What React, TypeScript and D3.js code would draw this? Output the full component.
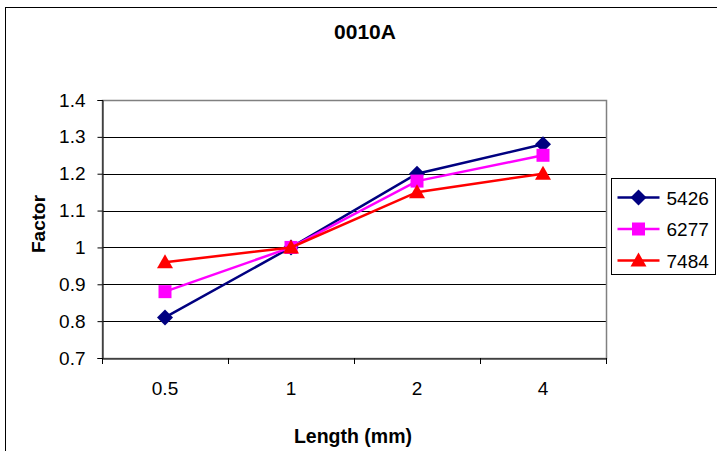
import React, { useEffect, useRef } from "react";
import * as d3 from "d3";

const categories = ["0.5", "1", "2", "4"];
const seriesNames = ["5426", "6277", "7484"];
const values5426 = [0.81, 1.0, 1.2, 1.28];
const values6277 = [0.88, 1.0, 1.18, 1.25];
const values7484 = [0.96, 1.0, 1.15, 1.2];
const yTicks = [0.7, 0.8, 0.9, 1, 1.1, 1.2, 1.3, 1.4];

const colors = ["#000080", "#FF00FF", "#FF0000"];

// marker paths (diamond = rotated square, square, triangle)
const marker = (s: number) => {
  if (s === 0) return "M0,-8L8,0L0,8L-8,0Z";
  if (s === 1) return "M-6.5,-6.5H6.5V6.5H-6.5Z";
  return "M0,-8L8,6L-8,6Z";
};

const App = () => {
  const ref = useRef<SVGSVGElement>(null);

  useEffect(() => {
    const svg = d3.select(ref.current);
    svg.selectAll("*").remove();

    const width = 717;
    const height = 451;
    const margin = { top: 100, right: 111, bottom: 93, left: 102 };
    const font = "Liberation Sans, Arial, sans-serif";

    // outer chart border
    svg
      .append("rect")
      .attr("x", 5.5)
      .attr("y", 7.5)
      .attr("width", 730)
      .attr("height", 460)
      .attr("fill", "white")
      .attr("stroke", "black");

    const x = d3
      .scaleBand()
      .domain(categories)
      .range([margin.left, width - margin.right]);
    const y = d3
      .scaleLinear()
      .domain([0.7, 1.4])
      .range([height - margin.bottom, margin.top]);

    // gridlines
    svg
      .append("g")
      .selectAll("line")
      .data(yTicks.slice(1, -1))
      .join("line")
      .attr("x1", margin.left)
      .attr("x2", width - margin.right)
      .attr("y1", (d) => Math.round(y(d)) + 0.5)
      .attr("y2", (d) => Math.round(y(d)) + 0.5)
      .attr("stroke", "black");

    // plot area border
    svg
      .append("rect")
      .attr("x", margin.left + 0.5)
      .attr("y", margin.top + 0.5)
      .attr("width", width - margin.right - margin.left)
      .attr("height", height - margin.bottom - margin.top)
      .attr("fill", "none")
      .attr("stroke", "#808080")
      .attr("stroke-width", 1.5);

    // y axis
    const yAxis = svg
      .append("g")
      .attr("transform", `translate(${margin.left + 0.5},0)`)
      .call(
        d3
          .axisLeft(y)
          .tickValues(yTicks)
          .tickSize(5)
          .tickPadding(12)
          .tickFormat((d) => String(+d))
      );
    yAxis.select(".domain").attr("stroke", "black");
    yAxis.selectAll("text").style("font-size", "19px").style("font-family", font).attr("fill", "black");

    // x axis
    const xAxis = svg
      .append("g")
      .attr("transform", `translate(0,${height - margin.bottom + 0.5})`)
      .call(d3.axisBottom(x).tickSize(0).tickPadding(23));
    xAxis.select(".domain").attr("stroke", "black");
    xAxis.selectAll("text").style("font-size", "19px").style("font-family", font).attr("fill", "black");
    svg
      .append("g")
      .selectAll("line")
      .data([...categories.map((c) => x(c) as number), width - margin.right])
      .join("line")
      .attr("x1", (d) => Math.round(d) + 0.5)
      .attr("x2", (d) => Math.round(d) + 0.5)
      .attr("y1", height - margin.bottom)
      .attr("y2", height - margin.bottom + 6)
      .attr("stroke", "black");

    // series
    const allSeries = [values5426, values6277, values7484];
    const cx = (c: string) => (x(c) as number) + x.bandwidth() / 2;
    const line = d3
      .line<number>()
      .x((_, i) => cx(categories[i]))
      .y((d) => y(d));

    allSeries.forEach((vals, s) => {
      svg
        .append("path")
        .datum(vals)
        .attr("d", line)
        .attr("fill", "none")
        .attr("stroke", colors[s])
        .attr("stroke-width", 2.5);
      svg
        .append("g")
        .selectAll("path")
        .data(vals)
        .join("path")
        .attr("transform", (d, i) => `translate(${cx(categories[i])},${y(d)})`)
        .attr("d", marker(s))
        .attr("fill", colors[s]);
    });

    // titles
    svg
      .append("text")
      .attr("x", 365)
      .attr("y", 39)
      .attr("text-anchor", "middle")
      .style("font-family", font)
      .style("font-size", "21px")
      .style("font-weight", "bold")
      .text("0010A");
    svg
      .append("text")
      .attr("x", 353)
      .attr("y", 443)
      .attr("text-anchor", "middle")
      .style("font-family", font)
      .style("font-size", "19.5px")
      .style("font-weight", "bold")
      .text("Length (mm)");
    svg
      .append("text")
      .attr("transform", "translate(45,224) rotate(-90)")
      .attr("text-anchor", "middle")
      .style("font-family", font)
      .style("font-size", "19px")
      .style("font-weight", "bold")
      .text("Factor");

    // legend
    const legend = svg.append("g").attr("transform", "translate(611.5,178.5)");
    legend
      .append("rect")
      .attr("width", 104)
      .attr("height", 96)
      .attr("fill", "white")
      .attr("stroke", "black");
    seriesNames.forEach((name, s) => {
      const ly = 19 + s * 31.5;
      const g = legend.append("g").attr("transform", `translate(0,${ly})`);
      g.append("line")
        .attr("x1", 6)
        .attr("x2", 48)
        .attr("stroke", colors[s])
        .attr("stroke-width", 2.5);
      g.append("path")
        .attr("transform", "translate(27,0)")
        .attr("d", marker(s))
        .attr("fill", colors[s]);
      g.append("text")
        .attr("x", 55)
        .attr("y", 7)
        .style("font-family", font)
        .style("font-size", "19px")
        .text(name);
    });
  }, []);

  return (
    <svg
      ref={ref}
      width={717}
      height={451}
      style={{ position: "absolute", left: 0, top: 0, background: "white" }}
    />
  );
};

export default App;
